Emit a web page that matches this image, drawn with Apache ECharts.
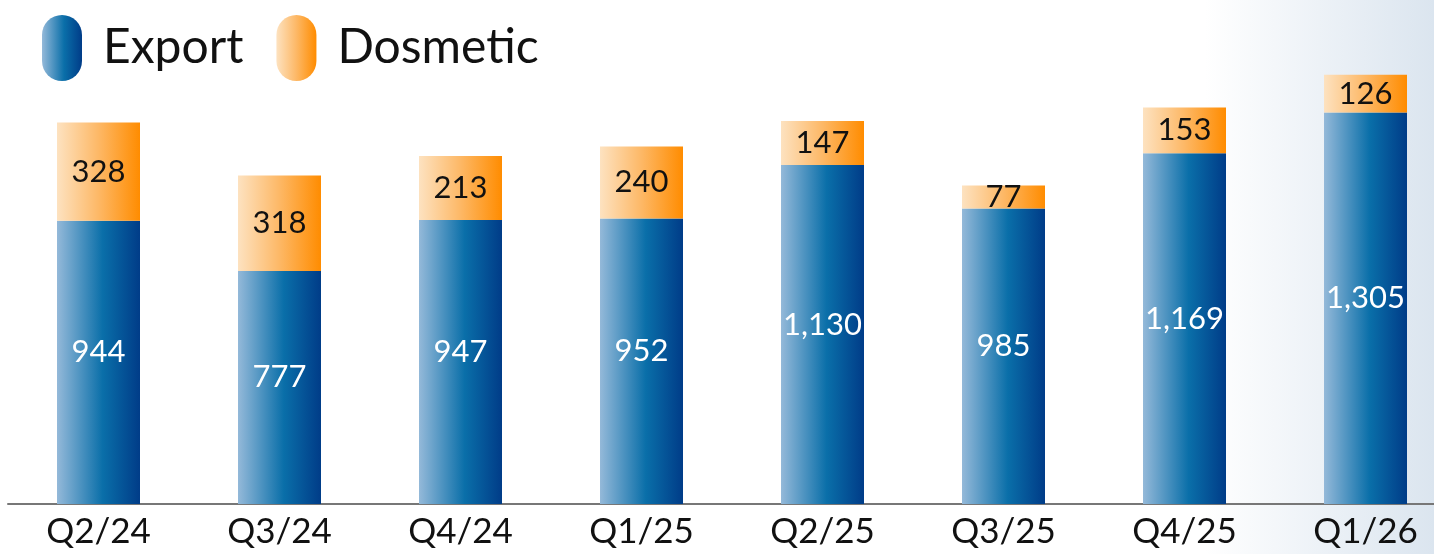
<!DOCTYPE html>
<html>
<head>
<meta charset="utf-8">
<script src="https://cdn.jsdelivr.net/npm/echarts@6/dist/echarts.min.js"></script>
<style>html,body{margin:0;padding:0;background:#fff}#c{width:1434px;height:554px}</style>
</head>
<body>
<div id="c"></div>
<script>
const categories = ['Q2/24','Q3/24','Q4/24','Q1/25','Q2/25','Q3/25','Q4/25','Q1/26'];
const exportValues = [944, 777, 947, 952, 1130, 985, 1169, 1305];
const domesticValues = [328, 318, 213, 240, 147, 77, 153, 126];
const seriesNames = ['Export', 'Dosmetic'];

const FONT = 'Lato';
const blueGrad = new echarts.graphic.LinearGradient(0,0,1,0,[
  {offset:0,color:'#94b9d9'},{offset:0.55,color:'#0a6fa9'},{offset:1,color:'#003c88'}]);
const orangeGrad = new echarts.graphic.LinearGradient(0,0,1,0,[
  {offset:0,color:'#fde2c0'},{offset:0.5,color:'#fdb866'},{offset:1,color:'#ff8c00'}]);
const capsule = 'path://M0,20 A20,20 0 0 1 40,20 L40,46 A20,20 0 0 1 0,46 Z';
const fmt = p => Number(p.value).toLocaleString('en-US');

const chart = echarts.init(document.getElementById('c'), null, {renderer:'canvas'});
chart.setOption({
  animation:false,
  backgroundColor: new echarts.graphic.LinearGradient(0,0,1,0,[
    {offset:0,color:'#ffffff'},{offset:0.84,color:'#ffffff'},{offset:1,color:'#dbe5ef'}]),
  legend:{
    left:37, top:10, itemWidth:40, itemHeight:66, itemGap:33,
    icon:capsule,
    textStyle:{fontFamily:FONT, fontSize:48, color:'#111', padding:[0,0,0,16]},
    data:seriesNames
  },
  grid:{left:8, width:1448, top:54, bottom:50, containLabel:false, outerBoundsMode:'none'},
  xAxis:{
    type:'category', data:categories,
    axisLine:{lineStyle:{color:'#777', width:2}},
    axisTick:{show:false},
    axisLabel:{fontFamily:FONT, fontSize:35, color:'#111', margin:10}
  },
  yAxis:{type:'value', min:0, max:1500, show:false, splitLine:{show:false}},
  series:[
    {name:seriesNames[0], type:'bar', stack:'t', barWidth:83, data:exportValues,
     itemStyle:{color:blueGrad},
     label:{show:true, position:'inside', offset:[0,-10], formatter:fmt,
            fontFamily:FONT, fontSize:31, color:'#fff'}},
    {name:seriesNames[1], type:'bar', stack:'t', barWidth:83, data:domesticValues,
     itemStyle:{color:orangeGrad},
     label:{show:true, position:'inside', formatter:fmt,
            fontFamily:FONT, fontSize:31, color:'#111'}}
  ]
});
</script>
</body>
</html>
